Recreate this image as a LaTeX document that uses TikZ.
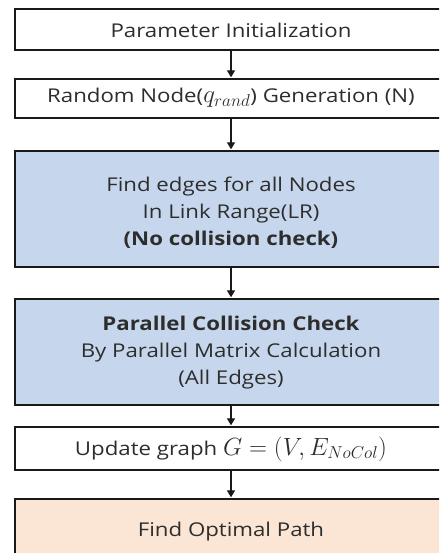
\documentclass[tikz,border=0pt]{standalone}
\usepackage{fontspec}
\setmainfont{Open Sans}[FakeStretch=1.17]
\usetikzlibrary{arrows.meta}
\definecolor{stepblue}{RGB}{198,215,237}
\definecolor{steppeach}{RGB}{251,230,214}
\definecolor{inktext}{RGB}{45,45,45}
% inline formulas set a little larger than the surrounding text
\newcommand{\bigmath}[1]{{\fontsize{23.5}{26}\selectfont$#1$}}
\tikzset{
  x=1pt, y=-1pt,
  stepbox/.style={draw=black!90, line width=2.2pt, minimum width=432pt,
    inner sep=0pt},
  steptext/.style={inner sep=0pt, align=center, text=inktext,
    font=\fontsize{19}{27}\selectfont},
  flow/.style={line width=1.3pt, draw=black!90,
    -{Triangle[width=8pt,length=7pt]}, shorten >=0.6pt}
}
\begin{document}
\begin{tikzpicture}
\useasboundingbox (0,0) rectangle (439,553);
\clip (0,0) rectangle (439,553);
% boxes
\node[stepbox, fill=white, minimum height=41pt] (init) at (231,29.5) {};
\node[stepbox, fill=white, minimum height=39pt] (rand) at (231,98.5) {};
\node[stepbox, fill=stepblue, minimum height=116pt] (edges) at (231,209) {};
\node[stepbox, fill=stepblue, minimum height=106pt] (check) at (231,352) {};
\node[stepbox, fill=white, minimum height=43pt] (update) at (231,448.5) {};
\node[stepbox, fill=steppeach, minimum height=66pt] (path) at (231,532) {};
% box texts
\node[steptext] (initT) at (231,30) {Parameter Initialization};
\node[steptext] (randT) at (231,98) {Random Node(\bigmath{q_{rand}}) Generation (N)};
\node[steptext] (edgesT) at (231,213)
  {Find edges for all Nodes\\In Link Range(LR)\\\textbf{(No collision check)}};
\node[steptext] (checkT) at (231,353)
  {\textbf{Parallel Collision Check}\\By Parallel Matrix Calculation\\(All Edges)};
\node[steptext] (updateT) at (231,449) {Update graph \bigmath{G=(V,E_{NoCol})}};
\node[steptext] (pathT) at (231,532) {Find Optimal Path};
% connectors
\draw[flow] (init.south) -- (rand.north);
\draw[flow] (rand.south) -- (edges.north);
\draw[flow] (edges.south) -- (check.north);
\draw[flow] (check.south) -- (update.north);
\draw[flow] (update.south) -- (path.north);
\end{tikzpicture}
\end{document}
